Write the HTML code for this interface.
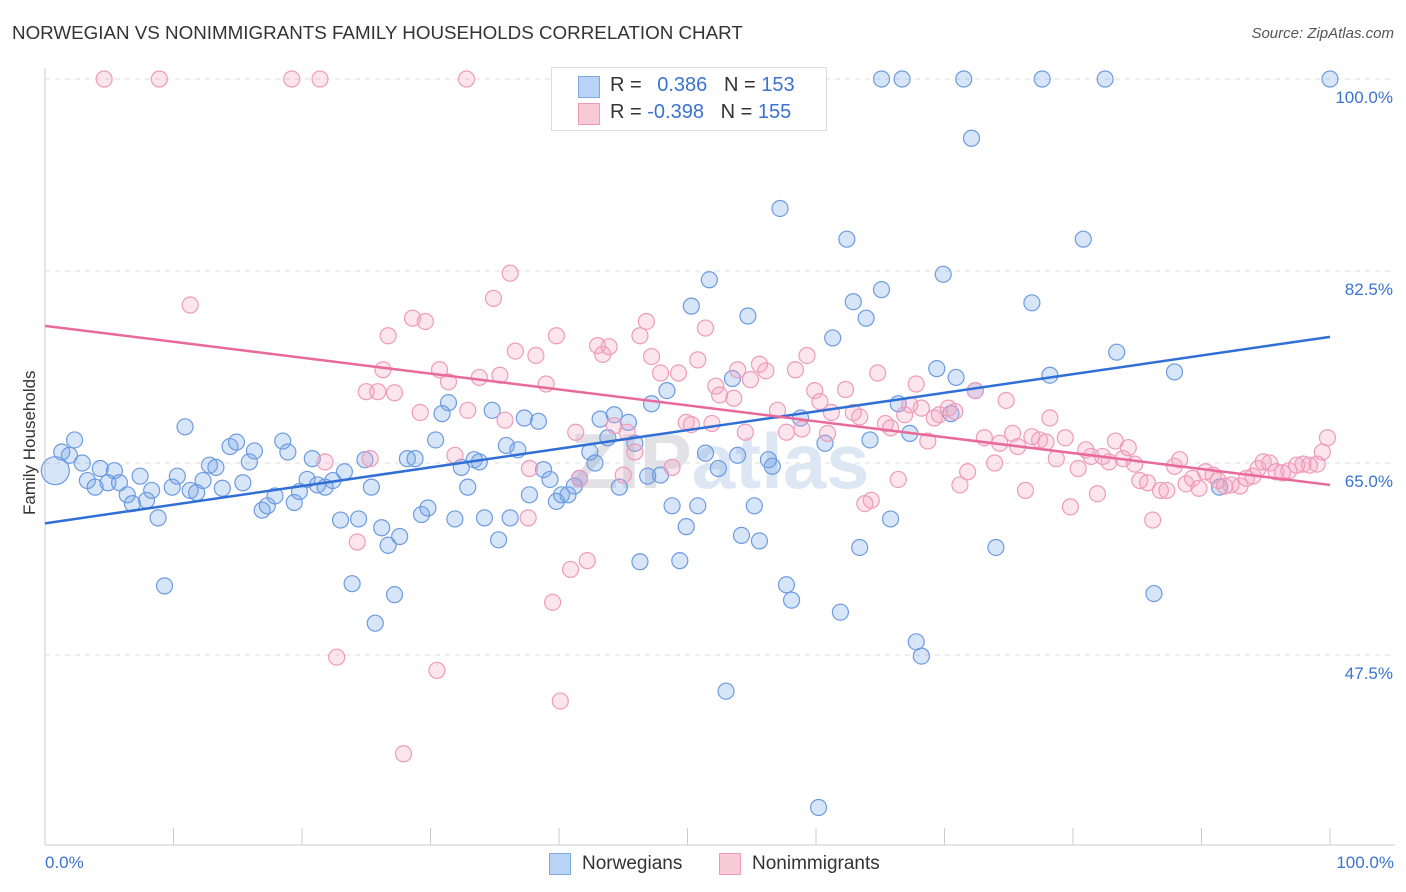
<!DOCTYPE html>
<html><head><meta charset="utf-8"><style>
body{margin:0;background:#fff;font-family:"Liberation Sans",sans-serif;}
#wrap{position:relative;width:1406px;height:892px;overflow:hidden;}
.t{position:absolute;white-space:nowrap;}
</style></head><body>
<div id="wrap">
<div class="t" style="left:12px;top:22px;font-size:18.8px;color:#333;">NORWEGIAN VS NONIMMIGRANTS FAMILY HOUSEHOLDS CORRELATION CHART</div>
<div class="t" style="right:12px;top:25px;font-size:15px;color:#555;font-style:italic;">Source: ZipAtlas.com</div>
<svg id="svg" width="1406" height="892" style="position:absolute;left:0;top:0"></svg>
</div>
<script>
const blueX=[0.8,1.3,2.3,1.9,2.9,3.3,3.9,4.3,4.9,5.4,5.8,6.4,6.8,7.4,7.9,8.3,8.8,9.3,9.9,10.3,10.9,11.3,11.8,12.3,12.8,13.3,13.8,14.4,14.9,15.4,15.9,16.3,16.9,17.3,17.9,18.5,18.9,19.4,19.8,20.4,20.8,21.2,21.8,22.4,23.0,23.3,23.9,24.4,24.9,25.4,25.7,26.2,26.7,27.2,27.6,28.2,28.8,29.3,29.8,30.4,30.9,31.4,31.9,32.4,32.9,33.4,33.8,34.2,34.8,35.3,35.9,36.2,36.8,37.3,37.7,38.4,38.8,39.3,39.8,40.2,40.7,41.2,41.6,42.4,42.8,43.2,43.8,44.3,44.7,45.4,45.9,46.3,46.9,47.2,47.9,48.4,48.8,49.4,49.9,50.3,50.8,51.4,51.7,52.4,53.0,53.5,53.9,54.2,54.7,55.2,55.6,56.3,56.6,57.2,57.7,58.1,58.8,60.2,60.7,61.3,61.9,62.4,62.9,63.4,63.9,64.2,65.1,65.1,65.8,66.4,66.7,67.3,67.8,68.2,69.4,69.9,70.5,70.9,71.5,72.1,72.4,74.0,76.8,77.6,78.2,80.8,82.5,83.4,86.3,87.9,91.4,100];
const blueY=[64.3,66.0,67.1,65.7,65.0,63.4,62.8,64.5,63.2,64.3,63.2,62.1,61.3,63.8,61.6,62.5,60.0,53.8,62.8,63.8,68.3,62.5,62.3,63.4,64.8,64.6,62.7,66.5,66.9,63.2,65.1,66.1,60.7,61.1,62.0,67.0,66.0,61.4,62.4,63.5,65.4,63.0,62.8,63.4,59.8,64.2,54.0,59.9,65.3,62.8,50.4,59.1,57.5,53.0,58.3,65.4,65.4,60.3,60.9,67.1,69.5,70.5,59.9,64.6,62.8,65.3,65.1,60.0,69.8,58.0,66.6,60.0,66.2,69.1,62.1,68.8,64.4,63.5,61.5,62.1,62.1,62.9,63.6,66.0,65.0,69.0,67.3,69.4,62.8,68.7,66.8,56.0,63.8,70.4,63.9,71.6,61.1,56.1,59.2,79.3,61.1,65.9,81.7,64.5,44.2,72.7,65.7,58.4,78.4,61.1,57.9,65.3,64.7,88.2,53.9,52.5,69.1,33.6,66.8,76.4,51.4,85.4,79.7,57.3,78.2,67.1,80.8,100,59.9,70.4,100,67.7,48.7,47.4,73.6,82.2,69.5,72.8,100,94.6,71.6,57.3,79.6,100,73.0,85.4,100,75.1,53.1,73.3,62.8,100];
const pinkX=[4.6,8.9,19.2,21.4,32.8,11.3,21.8,22.7,24.3,25.0,25.3,25.9,26.3,26.7,27.2,27.9,28.6,29.2,29.6,30.5,30.7,31.4,31.9,32.9,33.8,34.9,35.4,35.8,36.2,36.6,37.6,37.7,38.2,39.0,39.5,39.8,40.1,40.9,41.3,41.6,42.2,43.0,43.4,43.9,44.3,45.0,45.3,45.9,46.3,46.8,47.2,47.9,48.8,49.3,49.9,50.3,50.8,51.4,51.9,52.2,52.5,53.6,53.9,54.5,54.9,55.6,56.1,57.0,57.7,58.4,58.9,59.3,59.9,60.3,60.9,61.2,62.3,62.9,63.4,63.8,64.3,64.8,65.4,65.8,66.4,66.9,67.3,67.8,68.2,68.7,69.2,69.6,70.3,70.8,71.2,71.8,72.4,73.1,73.9,74.3,74.8,75.3,75.7,76.3,76.8,77.4,77.9,78.2,78.7,79.4,79.8,80.4,81.0,81.4,81.9,82.3,82.8,83.3,83.9,84.3,84.8,85.2,85.8,86.2,86.8,87.3,87.9,88.3,88.8,89.3,89.8,90.3,90.9,91.3,91.8,92.3,93.0,93.5,94.0,94.4,94.8,95.3,95.8,96.3,96.8,97.4,97.9,98.4,99.0,99.4,99.8];
const pinkY=[100,100,100,100,100,79.4,65.1,47.3,57.8,71.5,65.4,71.5,73.5,76.6,71.4,38.5,78.2,69.6,77.9,46.1,73.5,72.4,65.7,69.8,72.8,80.0,73.0,68.9,82.3,75.2,60.0,64.5,74.8,72.2,52.3,76.6,43.3,55.3,67.8,63.6,56.1,75.7,74.9,75.6,68.4,63.9,67.8,66.0,76.6,77.9,74.7,73.2,64.6,73.2,68.7,68.5,74.4,77.3,68.6,72.0,71.2,70.9,73.5,67.8,72.6,74.0,73.4,69.8,67.8,73.5,68.1,74.8,71.6,70.6,67.7,69.6,71.7,69.6,69.2,61.3,61.6,73.2,68.6,68.2,63.5,69.4,70.3,72.2,70.0,67.0,69.1,69.4,70.0,69.7,63.0,64.2,71.6,67.3,65.0,66.8,70.7,67.7,66.5,62.5,67.4,67.1,66.9,69.1,65.4,67.3,61.0,64.5,66.2,65.6,62.2,65.6,65.1,67.0,65.4,66.4,64.9,63.4,63.2,59.8,62.5,62.5,64.7,65.3,63.1,63.6,62.7,64.2,63.9,63.4,62.9,63.0,62.9,63.6,63.8,64.5,65.1,65.0,64.2,64.1,64.3,64.8,64.9,64.8,64.9,66.0,67.3];
const yTicks=[100,82.5,65,47.5];
const yTickLabels=["100.0%","82.5%","65.0%","47.5%"];
const blueLine=[59.5,76.5];
const pinkLine=[77.5,63.0];

const NS="http://www.w3.org/2000/svg";
const svg=document.getElementById('svg');
const X0=45,X1=1330,YT=79,YB=655;
function sx(v){return X0+(X1-X0)*v/100;}
function sy(v){return YT+(100-v)*(YB-YT)/52.5;}
function el(tag,attrs,parent){const e=document.createElementNS(NS,tag);for(const k in attrs)e.setAttribute(k,attrs[k]);(parent||svg).appendChild(e);return e;}

yTicks.forEach((t,i)=>{
  const g=el('line',{x1:45,x2:1395,y1:sy(t),y2:sy(t),stroke:'#ddd','stroke-dasharray':'5,5','stroke-width':1});
  
  
  const tx=el('text',{x:1393,y:sy(t)+24,'text-anchor':'end','font-size':17,fill:'#3a73d0','font-family':'Liberation Sans, sans-serif'});
  tx.textContent=yTickLabels[i];
  
  
});
let a=el('line',{x1:45,x2:45,y1:68,y2:845,stroke:'#ccc'});


a=el('line',{x1:45,x2:1395,y1:845,y2:845,stroke:'#ccc'});


for(let i=0;i<=10;i++){
  const tk=el('line',{x1:sx(i*10),x2:sx(i*10),y1:828,y2:845,stroke:'#ccc'});
  
  
}
let wm=el('text',{x:720,y:488,'text-anchor':'middle','font-size':78,'font-family':'Liberation Sans, sans-serif','font-weight':'bold'});


const w1=el('tspan',{fill:'#e2e2e6'},wm);w1.textContent='ZIP';
const w2=el('tspan',{fill:'#dde7f3'},wm);w2.textContent='atlas';

blueX.forEach((x,i)=>{
  const c=el('circle',{cx:sx(x),cy:sy(blueY[i]),r:i==0?14:8,fill:'rgba(110,160,230,0.28)',stroke:'#6d9be0','stroke-width':1.2});
  
  
});
pinkX.forEach((x,i)=>{
  const c=el('circle',{cx:sx(x),cy:sy(pinkY[i]),r:8,fill:'rgba(245,160,190,0.28)',stroke:'#ef9bb9','stroke-width':1.2});
  
  
});
let l=el('line',{x1:sx(0),y1:sy(blueLine[0]),x2:sx(100),y2:sy(blueLine[1]),stroke:'#2f6fd6','stroke-width':2.5});


l=el('line',{x1:sx(0),y1:sy(pinkLine[0]),x2:sx(100),y2:sy(pinkLine[1]),stroke:'#e8699a','stroke-width':2.5});


</script>
<div class="t" style="left:-30px;top:445px;font-size:17px;color:#333;transform:rotate(-90deg);transform-origin:center;width:120px;text-align:center;">Family Households</div>
<div class="t" style="left:45px;top:853px;font-size:17px;color:#3a73d0;">0.0%</div>
<div class="t" style="right:12px;top:853px;font-size:17px;color:#3a73d0;">100.0%</div>
<div style="position:absolute;left:551px;top:67px;width:274px;height:62px;border:1px solid #ddd;background:#fff;font-size:20px;color:#333;">
 <div style="position:absolute;left:26px;top:8px;width:20px;height:20px;background:#b8d3f5;border:1px solid #7fa7e0;"></div>
 <div class="t" style="left:58px;top:6px;">R = <span style="color:#3a73d0;margin-left:10px">0.386</span>&nbsp;&nbsp;&nbsp;N = <span style="color:#3a73d0">153</span></div>
 <div style="position:absolute;left:26px;top:35px;width:20px;height:20px;background:#f8cad8;border:1px solid #ee9ab8;"></div>
 <div class="t" style="left:58px;top:33px;">R = <span style="color:#3a73d0">-0.398</span>&nbsp;&nbsp;&nbsp;N = <span style="color:#3a73d0">155</span></div>
</div>
<div style="position:absolute;left:549px;top:853px;font-size:19px;color:#333;">
 <div style="position:absolute;left:0;top:0;width:20px;height:20px;background:#b8d3f5;border:1px solid #7fa7e0;"></div>
 <div class="t" style="left:33px;top:0;">Norwegians</div>
</div>
<div style="position:absolute;left:719px;top:853px;font-size:19px;color:#333;">
 <div style="position:absolute;left:0;top:0;width:20px;height:20px;background:#f8cad8;border:1px solid #ee9ab8;"></div>
 <div class="t" style="left:33px;top:0;">Nonimmigrants</div>
</div>
</body></html>
